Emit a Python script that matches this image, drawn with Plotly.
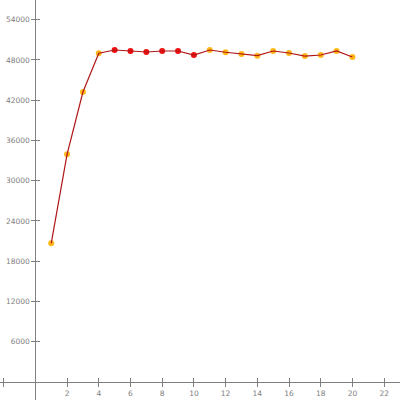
import plotly.graph_objects as go

x_vals = list(range(1, 21))
y_vals = [20670, 33930, 43220, 48990, 49480, 49330, 49180, 49330, 49330, 48730,
          49480, 49140, 48880, 48630, 49330, 49030, 48580, 48730, 49330, 48440]
highlight = [False, False, False, False, True, True, True, True, True, True,
             False, False, False, False, False, False, False, False, False, False]

x_ticks = [-2, 2, 4, 6, 8, 10, 12, 14, 16, 18, 20, 22]
x_tick_text = ["", "2", "4", "6", "8", "10", "12", "14", "16", "18", "20", "22"]
y_ticks = [6000, 12000, 18000, 24000, 30000, 36000, 42000, 48000, 54000]
y_tick_text = [str(v) for v in y_ticks]

marker_colors = ["#EE1111" if h else "#FFB81C" for h in highlight]

fig = go.Figure()
fig.add_trace(go.Scatter(x=x_vals, y=y_vals, mode="markers",
                         marker=dict(color=marker_colors, size=6, line=dict(width=0)),
                         hoverinfo="skip", showlegend=False))
fig.add_trace(go.Scatter(x=x_vals, y=y_vals, mode="lines",
                         line=dict(color="#B01515", width=1.2),
                         showlegend=False))
fig.add_trace(go.Scatter(x=[None], y=[None], xaxis="x2", yaxis="y2", showlegend=False))

xr = [-2.23, 23.0]
yr = [-2680, 56930]
gray = "#808080"
fnt = dict(family="DejaVu Sans", size=7.5, color=gray)

xpos = 2680 / (56930 + 2680)   # paper position of y=0
ypos = 2.23 / (23.0 + 2.23)    # paper position of x=0

fig.update_layout(
    width=400, height=400,
    margin=dict(l=0, r=0, t=0, b=0, pad=0, autoexpand=False),
    paper_bgcolor="white", plot_bgcolor="white",
    xaxis=dict(range=xr, domain=[0, 1], anchor="free", position=xpos, automargin=False,
               showgrid=False, zeroline=False, showline=True, linecolor=gray, linewidth=1,
               tickmode="array", tickvals=x_ticks, ticktext=x_tick_text,
               ticks="outside", ticklen=4, tickcolor=gray, tickwidth=1, tickfont=fnt),
    yaxis=dict(range=yr, domain=[0, 1], anchor="free", position=ypos, automargin=False,
               showgrid=False, zeroline=False, showline=True, linecolor=gray, linewidth=1,
               tickmode="array", tickvals=y_ticks, ticktext=y_tick_text,
               ticks="outside", ticklen=4, tickcolor=gray, tickwidth=1, tickfont=fnt),
    xaxis2=dict(range=xr, overlaying="x", anchor="free", position=xpos, automargin=False,
                showgrid=False, zeroline=False, showline=False,
                tickmode="array", tickvals=x_ticks, showticklabels=False,
                ticks="inside", ticklen=4, tickcolor=gray, tickwidth=1),
    yaxis2=dict(range=yr, overlaying="y", anchor="free", position=ypos, automargin=False,
                showgrid=False, zeroline=False, showline=False,
                tickmode="array", tickvals=y_ticks, showticklabels=False,
                ticks="inside", ticklen=4, tickcolor=gray, tickwidth=1),
)

fig.write_html("out.html", config={"displayModeBar": False},
               post_script="document.body.style.margin='0';document.body.style.overflow='hidden';")
